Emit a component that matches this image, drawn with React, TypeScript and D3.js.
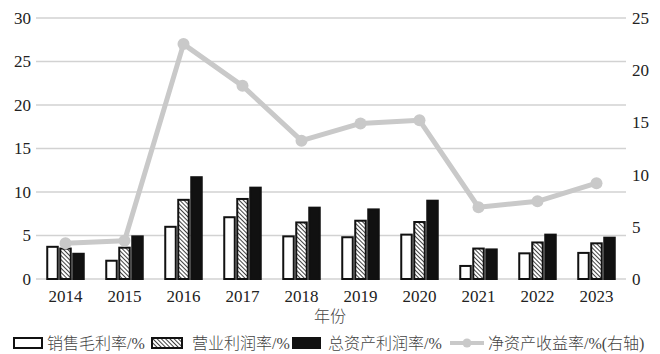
import React from "react";
import * as d3 from "d3";

const years = ["2014", "2015", "2016", "2017", "2018", "2019", "2020", "2021", "2022", "2023"];
const grossMargin = [3.7, 2.1, 6.0, 7.1, 4.9, 4.8, 5.1, 1.5, 2.95, 3.0];
const operatingMargin = [3.5, 3.6, 9.1, 9.2, 6.5, 6.7, 6.55, 3.5, 4.2, 4.1];
const assetProfit = [2.9, 4.9, 11.7, 10.5, 8.2, 8.0, 9.0, 3.4, 5.1, 4.75];
const roe = [3.42, 3.67, 22.5, 18.5, 13.25, 14.9, 15.2, 6.87, 7.44, 9.18];
const leftTicks = [0, 5, 10, 15, 20, 25, 30];
const rightTicks = [0, 5, 10, 15, 20, 25];
const legendLabels = ["销售毛利率/%", "营业利润率/%", "总资产利润率/%", "净资产收益率/%(右轴)"];
const xTitle = "年份";

const W = 660;
const H = 354;
const left = 36;
const right = 626;
const top = 18;
const bottom = 279;

export default function App() {
  const x = d3.scaleBand<string>().domain(years).range([left, right]).padding(0);
  const yL = d3.scaleLinear().domain([0, 30]).range([bottom, top]);
  const yR = d3.scaleLinear().domain([0, 25]).range([bottom, top]);
  const bw = 10.5;
  const step = 13;
  const series = [
    { vals: grossMargin, fill: "#ffffff", off: -step },
    { vals: operatingMargin, fill: "url(#hatch)", off: 0 },
    { vals: assetProfit, fill: "#111111", off: step },
  ];
  const cx = (y: string) => (x(y) as number) + x.bandwidth() / 2;
  const line = d3
    .line<number>()
    .x((_, i) => cx(years[i]))
    .y((d) => yR(d));
  const serif = "Liberation Serif, serif";
  const cjk = "Liberation Serif, Noto Sans CJK SC, serif";
  const lineColor = "#c9c9c9";
  const legY = 343;

  return (
    <svg width={W} height={H} style={{ position: "absolute", left: 0, top: 0, background: "#fff" }}>
      <defs>
        <pattern id="hatch" patternUnits="userSpaceOnUse" width="3" height="3" patternTransform="rotate(-45)">
          <rect width="3" height="3" fill="#fff" />
          <line x1="0" y1="0" x2="0" y2="3" stroke="#111" strokeWidth="1.6" />
        </pattern>
      </defs>
      <rect width={W} height={H} fill="#fff" />
      {leftTicks.map((t) => (
        <g key={"g" + t}>
          <line x1={left} x2={right} y1={yL(t)} y2={yL(t)} stroke="#d2d2d2" strokeWidth={1.5} />
          <text x={31} y={yL(t)} dy="0.35em" textAnchor="end" style={{ fontFamily: serif }} fontSize={17} fill="#222">
            {t}
          </text>
        </g>
      ))}
      {rightTicks.map((t) => (
        <text key={"r" + t} x={632} y={yR(t)} dy="0.35em" textAnchor="start" style={{ fontFamily: serif }} fontSize={17} fill="#222">
          {t}
        </text>
      ))}
      {series.map((s, si) =>
        s.vals.map((v, i) => (
          <rect
            key={si + "-" + i}
            x={cx(years[i]) + s.off - bw / 2}
            y={yL(v)}
            width={bw}
            height={bottom - yL(v)}
            fill={s.fill}
            stroke="#111"
            strokeWidth={2}
          />
        ))
      )}
      <path d={line(roe) || ""} fill="none" stroke={lineColor} strokeWidth={5} strokeLinejoin="round" />
      {roe.map((v, i) => (
        <circle key={"c" + i} cx={cx(years[i])} cy={yR(v)} r={6} fill={lineColor} />
      ))}
      {years.map((y) => (
        <text key={"x" + y} x={cx(y)} y={296} dy="0.35em" textAnchor="middle" style={{ fontFamily: serif }} fontSize={17} fill="#222">
          {y}
        </text>
      ))}
      <text x={330} y={316} dy="0.35em" textAnchor="middle" style={{ fontFamily: cjk }} fontSize={16} fill="#444" fontWeight={300}>
        {xTitle}
      </text>
      <rect x={14} y={legY - 5} width={28} height={10} fill="#fff" stroke="#111" strokeWidth={2} />
      <text x={47} y={legY} dy="0.35em" style={{ fontFamily: cjk }} fontSize={16} fill="#444" fontWeight={300}>
        {legendLabels[0]}
      </text>
      <rect x={152} y={legY - 5} width={30} height={10} fill="url(#hatch)" stroke="#111" strokeWidth={2} />
      <text x={192} y={legY} dy="0.35em" style={{ fontFamily: cjk }} fontSize={16} fill="#444" fontWeight={300}>
        {legendLabels[1]}
      </text>
      <rect x={293} y={legY - 5} width={27} height={10} fill="#111" stroke="#111" strokeWidth={2} />
      <text x={328} y={legY} dy="0.35em" style={{ fontFamily: cjk }} fontSize={16} fill="#444" fontWeight={300}>
        {legendLabels[2]}
      </text>
      <line x1={450} x2={484} y1={legY} y2={legY} stroke={lineColor} strokeWidth={4} />
      <circle cx={467} cy={legY} r={4.5} fill={lineColor} />
      <text x={488} y={legY} dy="0.35em" style={{ fontFamily: cjk }} fontSize={16} fill="#444" fontWeight={300}>
        {legendLabels[3]}
      </text>
    </svg>
  );
}
